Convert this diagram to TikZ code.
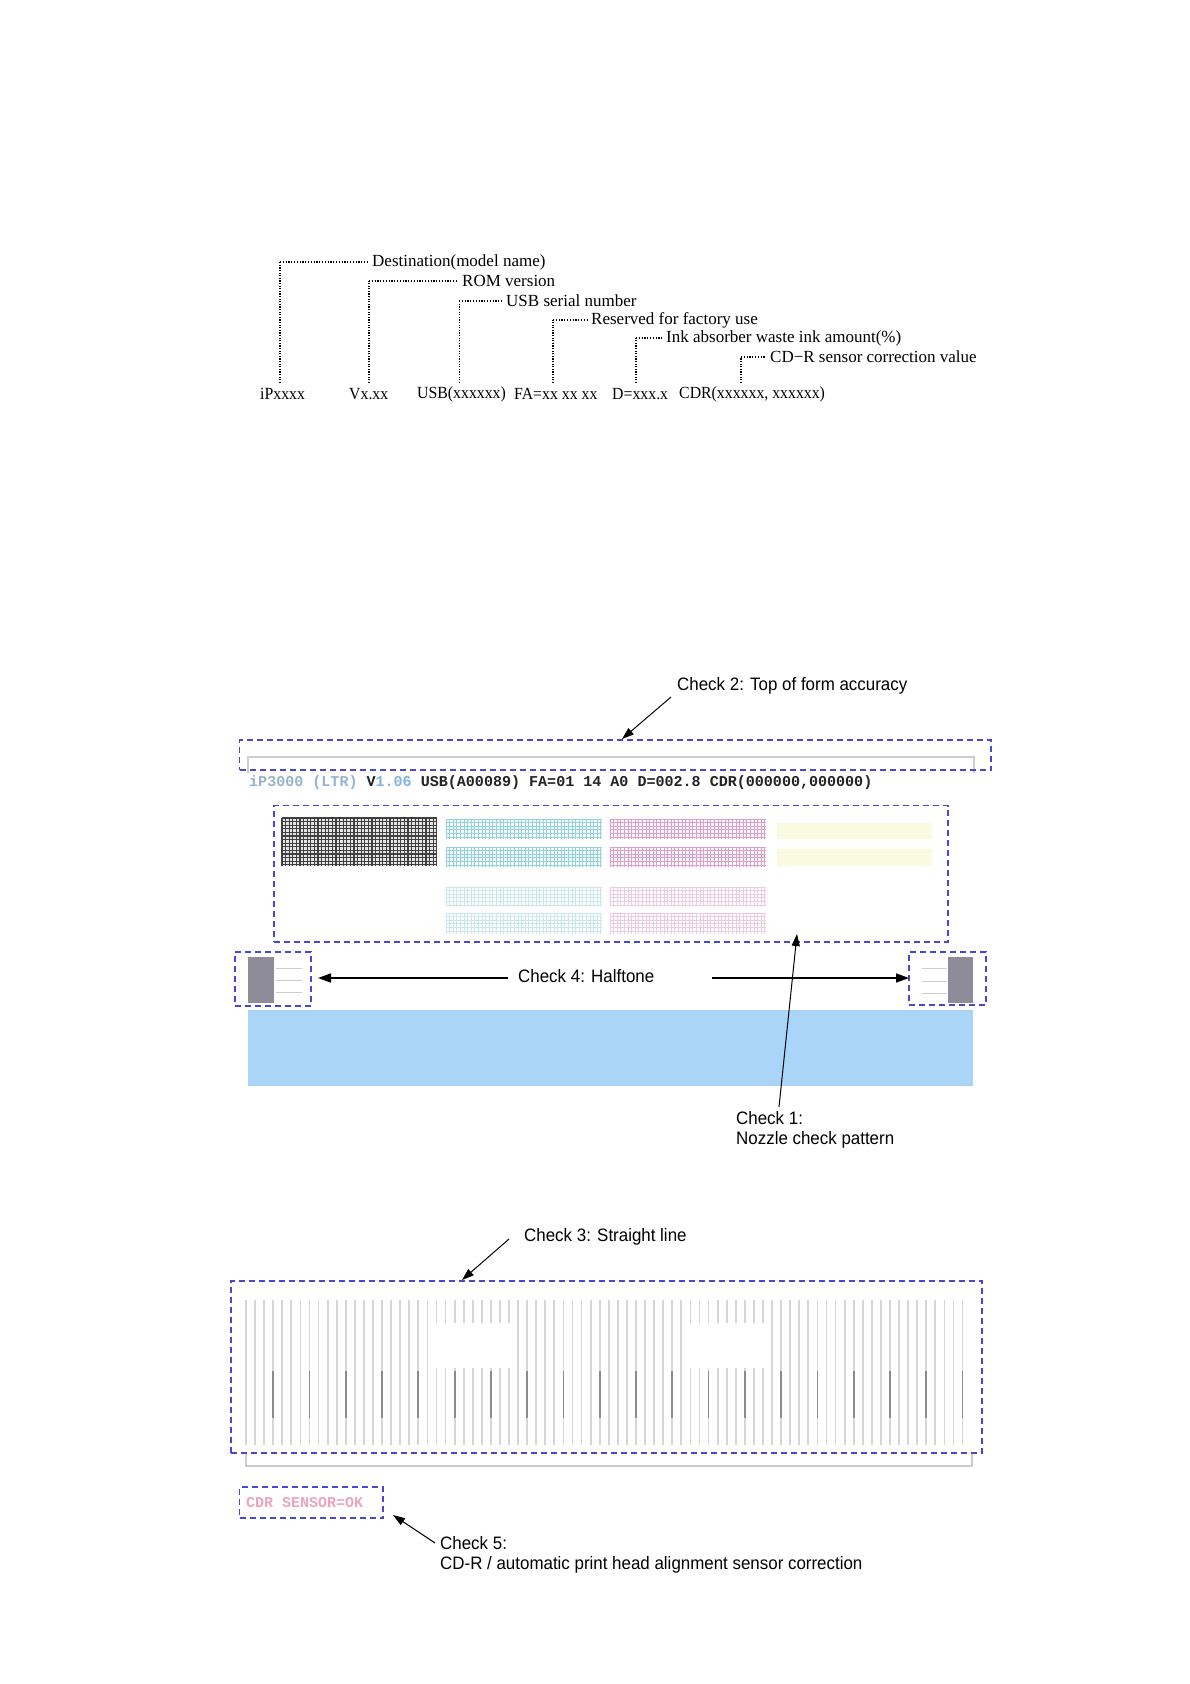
\documentclass[tikz,border=0pt]{standalone}
\usepackage{fontspec}
\setmainfont{Liberation Serif}
\setmonofont{Liberation Mono}
\newfontfamily\nsans[FakeStretch=0.94]{Liberation Sans}
\newfontfamily\nserif[FakeStretch=0.93]{Liberation Serif}
\usetikzlibrary{arrows.meta}
\definecolor{dashblue}{RGB}{72,72,212}
\definecolor{bandblue}{RGB}{170,213,248}
\definecolor{htgray}{RGB}{142,140,152}
\definecolor{htline}{RGB}{205,205,212}
\definecolor{pggray}{RGB}{205,205,205}
\definecolor{slight}{RGB}{214,214,214}
\definecolor{sldark}{RGB}{140,140,140}
\definecolor{gcyan}{RGB}{150,210,220}
\definecolor{gcyanl}{RGB}{200,232,238}
\definecolor{gmag}{RGB}{220,160,205}
\definecolor{gmagl}{RGB}{236,204,228}
\definecolor{gyel}{RGB}{250,250,224}
\definecolor{tblue}{RGB}{150,180,205}
\definecolor{tblue2}{RGB}{130,180,225}
\definecolor{tdark}{RGB}{35,35,35}
\definecolor{cdrpink}{RGB}{235,165,190}
\newcommand{\meshgrid}[6]{% x1,y1,x2,y2,color,width
  \pgfmathtruncatemacro\mgnx{((#3)-(#1))/3.6}%
  \pgfmathtruncatemacro\mgny{((#4)-(#2))/3.6}%
  \foreach \k in {0,...,\mgnx} {\draw[#5, line width=#6] ({#1+3.6*\k},{#2}) -- ({#1+3.6*\k},{#4});}
  \foreach \k in {0,...,\mgny} {\draw[#5, line width=#6] ({#1},{#2+3.6*\k}) -- ({#3},{#2+3.6*\k});}
}
\begin{document}
\begin{tikzpicture}[x=1pt,y=-1pt,
  lab/.style={font=\fontsize{17}{20}\selectfont, inner sep=0pt, anchor=west},
  labn/.style={font=\nserif\fontsize{17}{20}\selectfont, inner sep=0pt, anchor=west},
  sans/.style={font=\nsans\fontsize{18}{20.5}\selectfont, inner sep=0pt, align=left},
  dotv/.style={line width=1.8pt, dash pattern=on 1.2pt off 1.4pt},
  dotvt/.style={line width=1.0pt, dash pattern=on 1.2pt off 1.4pt},
  doth/.style={line width=1.1pt, dash pattern=on 1.2pt off 1.6pt},
  dbox/.style={draw=dashblue, line width=1.6pt, dash pattern=on 6pt off 4pt, inner sep=0pt},
  arr/.style={-{Triangle[length=12pt,width=8pt]}, line width=1.0pt, black},
  arrb/.style={-{Triangle[length=13pt,width=9pt]}, line width=1.5pt, black},
  pg/.style={draw=pggray, line width=1.6pt},
  sl/.style={draw=slight, line width=1.8pt},
  sld/.style={draw=sldark, line width=1.8pt},
]
\useasboundingbox[fill=white] (0,0) rectangle (1190,1684);

% ---------------- top section ----------------
\node[lab] (d1) at (372,262) {Destination(model name)};
\node[lab] (d2) at (462,281) {ROM version};
\node[lab] (d3) at (506,301) {USB serial number};
\node[lab] (d4) at (591,320) {Reserved for factory use};
\node[lab] (d5) at (666,338) {Ink absorber waste ink amount(\%)};
\node[lab] (d6) at (770,357) {CD{\char"2212}R sensor correction value};

\node[labn] (f1) at (260,394) {iPxxxx};
\node[labn] (f2) at (349,394) {Vx.xx};
\node[labn] (f3) at (417,394) {USB(xxxxxx)};
\node[labn] (f4) at (514,394) {FA=xx xx xx};
\node[labn] (f5) at (612,394) {D=xxx.x};
\node[labn] (f6) at (679,394) {CDR(xxxxxx, xxxxxx)};

\coordinate (t1) at (280,262); \coordinate (b1) at (280,383);
\coordinate (t2) at (369,281); \coordinate (b2) at (369,383);
\coordinate (t3) at (459,301); \coordinate (b3) at (459,383);
\coordinate (t4) at (553,320); \coordinate (b4) at (553,383);
\coordinate (t5) at (636,338); \coordinate (b5) at (636,383);
\coordinate (t6) at (741,357); \coordinate (b6) at (741,383);

\draw[dotv] (b1) -- (t1); \draw[doth] (t1) -- ([xshift=-4pt]d1.west);
\draw[dotv] (b2) -- (t2); \draw[doth] (t2) -- ([xshift=-4pt]d2.west);
\draw[dotvt] (b3) -- (t3); \draw[doth] (t3) -- ([xshift=-4pt]d3.west);
\draw[dotv] (b4) -- (t4); \draw[doth] (t4) -- ([xshift=-4pt]d4.west);
\draw[dotv] (b5) -- (t5); \draw[doth] (t5) -- ([xshift=-4pt]d5.west);
\draw[dotv] (b6) -- (t6); \draw[doth] (t6) -- ([xshift=-4pt]d6.west);

% ---------------- middle section ----------------
\draw[pg] (248,773) -- (248,757) -- (974,757) -- (974,773);
\node[font=\ttfamily\bfseries\fontsize{15.05}{16}\selectfont, inner sep=0pt, anchor=west, text=tdark] (ml) at (249,783)
  {\textcolor{tblue}{iP3000 (LTR)} V\textcolor{tblue2}{1.06} USB(A00089) FA=01 14 A0 D=002.8 CDR(000000,000000)};

% nozzle check pattern
\fill[black!10] (282,818) rectangle (437,866);
\meshgrid{282}{818}{437}{866}{black!75}{1.1pt}
\foreach \x/\c/\f in {446/gcyan/cyan!4, 610/gmag/magenta!3}{
  \fill[\f] (\x,819) rectangle ({\x+156},839);
  \meshgrid{\x}{819}{\x+156}{839}{\c}{0.8pt}
  \fill[\f] (\x,847) rectangle ({\x+156},867);
  \meshgrid{\x}{847}{\x+156}{867}{\c}{0.8pt}
}
\foreach \x/\c in {446/gcyanl, 610/gmagl}{
  \meshgrid{\x}{887}{\x+156}{905}{\c}{0.7pt}
  \meshgrid{\x}{913}{\x+156}{934}{\c}{0.7pt}
}
\fill[gyel] (777,823) rectangle (932,839);
\fill[gyel] (777,849) rectangle (932,866);

% halftone
\fill[htgray] (248,957) rectangle (274,1003);
\foreach \y in {968,980,992} \draw[htline, line width=1pt] (276,\y) -- (302,\y);
\fill[htgray] (948,957) rectangle (973,1003);
\foreach \y in {968,981,993} \draw[htline, line width=1pt] (922,\y) -- (947,\y);

% blue band
\fill[bandblue] (248,1010) rectangle (973,1086);

\node[dbox, minimum width=751.5pt, minimum height=30pt] (box2) at (615.25,755) {};
\node[dbox, minimum width=674pt, minimum height=136.5pt] (box1) at (611,873.75) {};
\node[dbox, minimum width=76pt, minimum height=54pt] (box4l) at (273,979) {};
\node[dbox, minimum width=77pt, minimum height=53pt] (box4r) at (947.5,978.5) {};

\node[sans, anchor=west] (c2) at (677,686) {Check 2: Top of form accuracy};
\node[sans, anchor=west] (c4) at (518,976) {Check 4: Halftone};
\node[sans, anchor=north west] (c1) at (736,1111) {Check 1:\\Nozzle check pattern};

\coordinate (c2s) at (671,697); \coordinate (c2t) at (622,739);
\draw[arr] (c2s) -- (c2t);
\coordinate (c1s) at (779,1107); \coordinate (c1t) at (797,934);
\draw[arr] (c1s) -- (c1t);
\coordinate (c4ls) at (508,978); \coordinate (c4lt) at (318,978);
\coordinate (c4rs) at (712,978); \coordinate (c4rt) at (909,978);
\draw[arrb] (c4ls) -- (c4lt);
\draw[arrb] (c4rs) -- (c4rt);

% ---------------- lower section ----------------
\foreach \i in {0,...,79} { \draw[sl] ({246+9.07*\i},1300) -- ({246+9.07*\i},1445); }
\fill[white] (431,1323) rectangle (514,1368);
\fill[white] (686,1323) rectangle (768,1368);
\foreach \i in {3,7,...,79} { \draw[sld] ({246+9.07*\i},1371) -- ({246+9.07*\i},1418); }
\draw[pg] (246,1452) -- (246,1466) -- (972,1466) -- (972,1452);

\node[dbox, minimum width=751pt, minimum height=172pt] (box3) at (606.5,1367) {};
\node[sans, anchor=west] (c3) at (524,1237) {Check 3: Straight line};
\coordinate (c3s) at (509,1239); \coordinate (c3t) at (462,1280);
\draw[arr] (c3s) -- (c3t);

\node[dbox, minimum width=143.5pt, minimum height=31pt] (box5) at (311.25,1502.5) {};
\node[font=\ttfamily\bfseries\fontsize{15}{16}\selectfont, inner sep=0pt, anchor=west, text=cdrpink] (cdr) at (246,1503) {CDR SENSOR=OK};
\node[sans, anchor=north west] (c5) at (440,1536) {Check 5:\\CD-R / automatic print head alignment sensor correction};
\coordinate (c5s) at (435,1543); \coordinate (c5t) at (393,1515);
\draw[arr] (c5s) -- (c5t);
\end{tikzpicture}
\end{document}
